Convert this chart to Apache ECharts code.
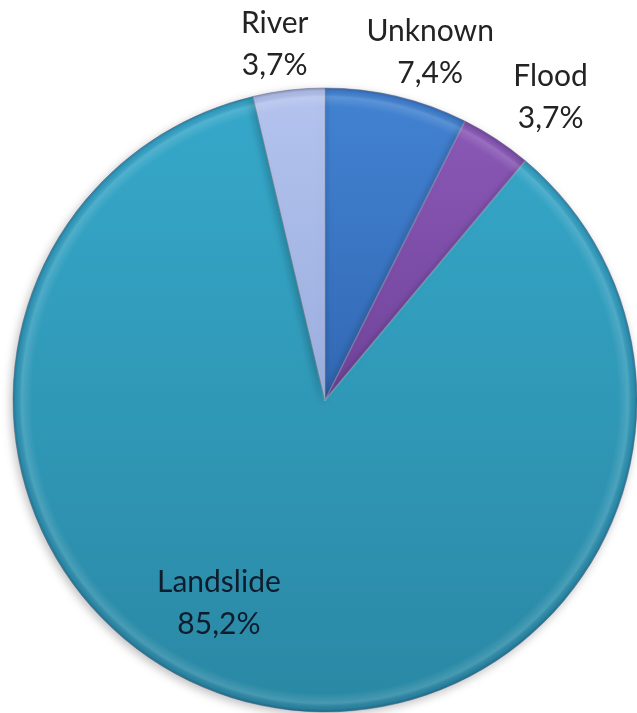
<!DOCTYPE html>
<html>
<head>
<meta charset="utf-8">
<title>Causes</title>
<script src="https://cdn.jsdelivr.net/npm/echarts@6/dist/echarts.min.js"></script>
<style>
  html, body { margin: 0; padding: 0; background: #ffffff; }
  #chart { width: 637px; height: 713px; }
</style>
</head>
<body>
<div id="chart"></div>
<script>
// Slice data, clockwise from 12 o'clock
const categories = ['Unknown', 'Flood', 'Landslide', 'River'];
const shares = [7.4, 3.7, 85.2, 3.7];

// Fill colours: [top, bottom] of each slice's vertical gradient
const sliceColors = [
  ['#4283d2', '#3268b4'],
  ['#8a58b6', '#70449a'],
  ['#36a8ca', '#2a88a4'],
  ['#b4c3ee', '#9aaedf']
];

// Label placement: angular shift (deg, clockwise) from slice mid-angle, and radius ratio
const labelShift = [3.5, 3.4, 14.2, -1.4];
const labelRadius = [1.165, 1.21, 0.736, 1.15];
const labelInk = ['#232323', '#232323', '#0e1c2c', '#232323'];

const CX = 325, CY = 400, R = 312;

const total = shares.reduce((a, b) => a + b, 0);
const midAngles = [];
{
  let acc = 0;
  shares.forEach(v => { midAngles.push((acc + v / 2) / total * 360); acc += v; });
}

function fmt(v) { return v.toFixed(1).replace('.', ',') + '%'; }

const mainData = categories.map((name, i) => ({
  name: name,
  value: shares[i],
  itemStyle: {
    color: {
      type: 'linear', x: 0, y: 0, x2: 0, y2: 1,
      colorStops: [
        { offset: 0, color: sliceColors[i][0] },
        { offset: 1, color: sliceColors[i][1] }
      ]
    }
  },
  label: { color: labelInk[i] }
}));

// Rim bevel drawn over the slices
const rim = {
  type: 'radial', x: CX, y: CY, r: R, global: true,
  colorStops: [
    { offset: 0, color: 'rgba(255,255,255,0)' },
    { offset: 0.94, color: 'rgba(255,255,255,0)' },
    { offset: 0.972, color: 'rgba(255,255,255,0.14)' },
    { offset: 0.99, color: 'rgba(0,0,40,0.06)' },
    { offset: 1, color: 'rgba(0,0,40,0.25)' }
  ]
};

const chart = echarts.init(document.getElementById('chart'), null, { renderer: 'canvas' });
chart.setOption({
  backgroundColor: '#ffffff',
  animation: false,
  series: [
    {
      type: 'pie',
      center: [CX, CY],
      radius: [0, R],
      startAngle: 90,
      clockwise: true,
      avoidLabelOverlap: false,
      itemStyle: {
        borderColor: 'rgba(20,30,70,0.35)',
        borderWidth: 1,
        shadowBlur: 10,
        shadowColor: 'rgba(0,0,0,0.25)',
        shadowOffsetX: -2,
        shadowOffsetY: 3
      },
      label: {
        show: true,
        position: 'inside',
        fontFamily: 'Lato',
        fontSize: 30,
        lineHeight: 42,
        align: 'center',
        formatter: p => p.name + '\n' + fmt(p.value)
      },
      labelLine: { show: false },
      labelLayout: function (p) {
        const i = p.dataIndex;
        const a = (midAngles[i] + labelShift[i]) * Math.PI / 180;
        const d = R * labelRadius[i];
        return {
          x: CX + d * Math.sin(a),
          y: CY - d * Math.cos(a),
          align: 'center',
          verticalAlign: 'middle'
        };
      },
      emphasis: { disabled: true },
      data: mainData
    },
    {
      type: 'pie',
      silent: true,
      center: [CX, CY],
      radius: [0, R],
      startAngle: 90,
      clockwise: true,
      label: { show: false },
      labelLine: { show: false },
      itemStyle: {
        color: rim,
        borderColor: 'rgba(255,255,255,0.15)',
        borderWidth: 1.5
      },
      emphasis: { disabled: true },
      data: categories.map((name, i) => ({ name: name, value: shares[i] }))
    }
  ]
});
</script>
</body>
</html>
